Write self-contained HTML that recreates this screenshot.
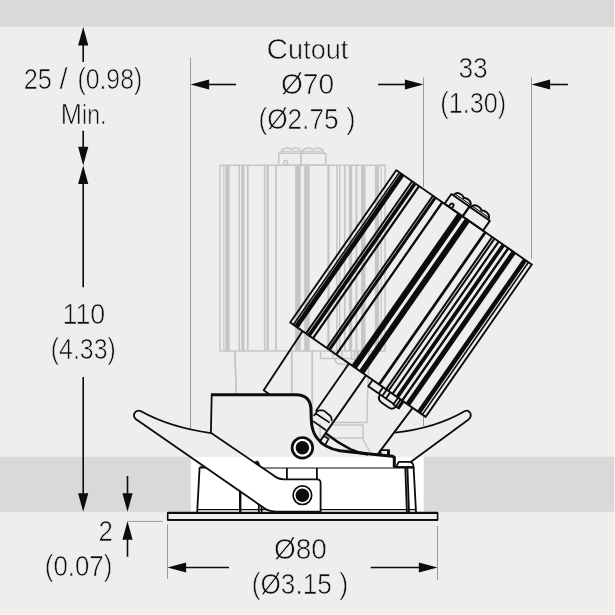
<!DOCTYPE html><html><head><meta charset="utf-8"><style>html,body{margin:0;padding:0;background:#eeeeec}svg{display:block}</style></head><body><svg width="615" height="615" viewBox="0 0 615 615">
<defs><linearGradient id="f" gradientUnits="userSpaceOnUse" x1="0" y1="0" x2="0" y2="615"><stop offset="0.74276" stop-color="#eeeeec"/><stop offset="0.74276" stop-color="#fff"/><stop offset="0.83220" stop-color="#fff"/><stop offset="0.83220" stop-color="#eeeeec"/></linearGradient></defs>
<rect width="615" height="615" fill="#eeeeec"/>
<rect width="615" height="26.8" fill="#d9d9d9"/>
<rect y="456.8" width="615" height="55.0" fill="#d9d9d9"/>
<rect x="190.8" y="456.8" width="232.9" height="55.0" fill="#fff"/>
<line x1="190.5" y1="57.5" x2="190.5" y2="457" stroke="#9a9a9a" stroke-width="1"/>
<line x1="423.5" y1="77.5" x2="423.5" y2="187" stroke="#9a9a9a" stroke-width="1"/><line x1="423.5" y1="416" x2="423.5" y2="426" stroke="#9a9a9a" stroke-width="1"/>
<line x1="531.5" y1="77.5" x2="531.5" y2="259" stroke="#9a9a9a" stroke-width="1"/>
<line x1="167.5" y1="524.5" x2="167.5" y2="579" stroke="#9a9a9a" stroke-width="1"/>
<line x1="437.5" y1="526" x2="437.5" y2="580" stroke="#9a9a9a" stroke-width="1"/>
<line x1="127.5" y1="521.4" x2="162.7" y2="521.4" stroke="#9a9a9a" stroke-width="1"/>
<g stroke="#c6c6c6" stroke-width="1.5" fill="none" stroke-linejoin="round"><path d="M235,350.9 L237,421.6 L243.5,421.6 M369.2,350.9 L367.1,410"/><path d="M291.7,350.9 L291.7,409 M312.3,350.9 L312.3,432"/><path d="M281.2,153.3 q0,-4.6 5,-5.2 q3.6,-0.3 5,1.6 q1.4,-1.9 5,-1.6 q5,0.6 5,5.2"/><path d="M302.4,153.3 q0,-4.6 5.2,-5.2 q3.8,-0.3 5.4,1.6 q1.6,-1.9 5.4,-1.6 q5.2,0.6 5.2,5.2"/><path d="M282,151.2 H300 M303,151.2 H323" stroke-width="1"/><rect x="278.8" y="153.3" width="22" height="11.9"/><rect x="300.8" y="153.3" width="24.9" height="11.9"/><path d="M283.8,165.2 v-2.4 q0,-2.3 1.8,-2.3 q1.8,0 1.8,2.3 v2.4"/><path d="M320.5,350.9 V358.5 H351.5 M333.2,350.9 V358.5 M337.6,350.9 V358.5 M342,350.9 V358.5 M335,358.5 Q335,364.3 341,364.3 H349.5 Q354.4,364.3 354.8,359.2 M351.5,350.9 V359.2 H358.2 V350.9 M354.6,350.9 V359.2"/><path d="M357.5,350.9 V359.6" stroke-width="2.4"/><rect x="220" y="165.2" width="165.1" height="185.7"/></g><rect x="223.30" y="165.2" width="1.10" height="185.7" fill="#c6c6c6"/><rect x="225.30" y="165.2" width="4.30" height="185.7" fill="#c6c6c6"/><rect x="238.50" y="165.2" width="1.50" height="185.7" fill="#c6c6c6"/><rect x="241.20" y="165.2" width="3.30" height="185.7" fill="#c6c6c6"/><rect x="246.80" y="165.2" width="1.80" height="185.7" fill="#c6c6c6"/><rect x="263.90" y="165.2" width="1.50" height="185.7" fill="#c6c6c6"/><rect x="266.40" y="165.2" width="2.50" height="185.7" fill="#c6c6c6"/><rect x="275.20" y="165.2" width="1.80" height="185.7" fill="#c6c6c6"/><rect x="295.10" y="165.2" width="5.60" height="185.7" fill="#c6c6c6"/><rect x="304.20" y="165.2" width="5.50" height="185.7" fill="#c6c6c6"/><rect x="327.30" y="165.2" width="2.30" height="185.7" fill="#c6c6c6"/><rect x="336.10" y="165.2" width="1.50" height="185.7" fill="#c6c6c6"/><rect x="338.90" y="165.2" width="1.50" height="185.7" fill="#c6c6c6"/><rect x="343.90" y="165.2" width="1.70" height="185.7" fill="#c6c6c6"/><rect x="348.90" y="165.2" width="3.30" height="185.7" fill="#c6c6c6"/><rect x="355.50" y="165.2" width="1.90" height="185.7" fill="#c6c6c6"/><rect x="361.00" y="165.2" width="4.50" height="185.7" fill="#c6c6c6"/><rect x="374.90" y="165.2" width="4.10" height="185.7" fill="#c6c6c6"/><rect x="380.50" y="165.2" width="1.10" height="185.7" fill="#c6c6c6"/>
<g stroke="#c6c6c6" stroke-width="1.5" fill="none"><path d="M331,422.4 H367.4 M331,424.9 H363 V439.5 L370.2,452 M328,438 H363 M320,423 V438 M367.3,408 V422.4 M234.6,350.9 L236.4,394 M291.9,350.9 V394 M312.3,350.9 V414"/></g>
<path d="M378,453.8 L394.9,432.6 Q435,428.5 464.5,411.3 Q468.3,409.3 470.3,413.2 Q471.8,416.8 468.6,419.4 L410.7,461.9 L398,461.9 Z" fill="url(#f)" stroke="none"/>
<path d="M394.9,432.6 Q435,428.5 464.5,411.3 Q468.3,409.3 470.3,413.2 Q471.8,416.8 468.6,419.4 L410.7,461.9" fill="none" stroke="#0c0c0c" stroke-width="1.8" stroke-linejoin="round"/>
<g transform="translate(-1.8,0.7) rotate(34.86 302.2 451.0)"><g stroke="#0c0c0c" stroke-width="1.9" fill="none" stroke-linejoin="round"><path d="M235,350.9 L237,421.6 L243.5,421.6 M369.2,350.9 L367.1,410"/><path d="M291.7,350.9 L291.7,409 M312.3,350.9 L312.3,432"/><path d="M281.2,153.3 q0,-4.6 5,-5.2 q3.6,-0.3 5,1.6 q1.4,-1.9 5,-1.6 q5,0.6 5,5.2"/><path d="M302.4,153.3 q0,-4.6 5.2,-5.2 q3.8,-0.3 5.4,1.6 q1.6,-1.9 5.4,-1.6 q5.2,0.6 5.2,5.2"/><path d="M282,151.2 H300 M303,151.2 H323" stroke-width="1"/><rect x="278.8" y="153.3" width="22" height="11.9"/><rect x="300.8" y="153.3" width="24.9" height="11.9"/><path d="M283.8,165.2 v-2.4 q0,-2.3 1.8,-2.3 q1.8,0 1.8,2.3 v2.4"/><path d="M320.5,350.9 V358.5 H351.5 M333.2,350.9 V358.5 M337.6,350.9 V358.5 M342,350.9 V358.5 M335,358.5 Q335,364.3 341,364.3 H349.5 Q354.4,364.3 354.8,359.2 M351.5,350.9 V359.2 H358.2 V350.9 M354.6,350.9 V359.2"/><path d="M357.5,350.9 V359.6" stroke-width="2.8"/><rect x="220" y="165.2" width="165.1" height="185.7"/></g><rect x="223.05" y="165.2" width="1.60" height="185.7" fill="#0c0c0c"/><rect x="225.05" y="165.2" width="4.80" height="185.7" fill="#0c0c0c"/><rect x="238.25" y="165.2" width="2.00" height="185.7" fill="#0c0c0c"/><rect x="240.95" y="165.2" width="3.80" height="185.7" fill="#0c0c0c"/><rect x="246.55" y="165.2" width="2.30" height="185.7" fill="#0c0c0c"/><rect x="263.65" y="165.2" width="2.00" height="185.7" fill="#0c0c0c"/><rect x="266.15" y="165.2" width="3.00" height="185.7" fill="#0c0c0c"/><rect x="274.95" y="165.2" width="2.30" height="185.7" fill="#0c0c0c"/><rect x="294.85" y="165.2" width="6.10" height="185.7" fill="#0c0c0c"/><rect x="303.95" y="165.2" width="6.00" height="185.7" fill="#0c0c0c"/><rect x="327.05" y="165.2" width="2.80" height="185.7" fill="#0c0c0c"/><rect x="335.85" y="165.2" width="2.00" height="185.7" fill="#0c0c0c"/><rect x="338.65" y="165.2" width="2.00" height="185.7" fill="#0c0c0c"/><rect x="343.65" y="165.2" width="2.20" height="185.7" fill="#0c0c0c"/><rect x="348.65" y="165.2" width="3.80" height="185.7" fill="#0c0c0c"/><rect x="355.25" y="165.2" width="2.40" height="185.7" fill="#0c0c0c"/><rect x="360.75" y="165.2" width="5.00" height="185.7" fill="#0c0c0c"/><rect x="374.65" y="165.2" width="4.60" height="185.7" fill="#0c0c0c"/><rect x="380.25" y="165.2" width="1.60" height="185.7" fill="#0c0c0c"/></g>
<g stroke="#0c0c0c" stroke-width="1.7" fill="none" stroke-linejoin="round"><path d="M313.7,416 L317.1,411.6 Q318.2,410.2 320,410.3 L322.6,410.4 Q324,410.5 325.5,411.8 L330.4,416 Q331.4,417 331.5,418.5 L331.7,421.1 M316.1,413.8 L329.6,422.6 M313,421.1 L326.1,430.3 M323.7,435.8 L328.5,438.9 L325.6,444.3"/></g>
<g stroke="#0c0c0c" stroke-width="1.8" fill="url(#f)" stroke-linejoin="round">
<path d="M199.6,467.4 L413,467.4 L416,512 L197.2,512 Z" stroke="none"/><path d="M197.2,512 L199.6,467.4 M413.6,467.4 L416,512" fill="none"/>
<path d="M396,467 L398.8,461.9 L409.5,461.9 Q413.5,462.3 413.6,467.4 Z"/>
<path d="M405.3,467.4 L406.9,512 M407.4,467.4 L409,512 M258.8,467.4 V512 M261.6,467.4 V512 M286.9,467.4 V480 M316.9,467.4 V480" fill="none"/>
<path d="M199.6,467.4 H413.5" stroke-width="2.3" fill="none"/><path d="M197.4,509.7 H416" stroke-width="1.3" fill="none"/><path d="M240.2,467.4 V512" stroke-width="2.4" fill="none"/>
<rect x="167.7" y="512.9" width="269.9" height="7" stroke-width="1.6"/>
<path d="M167.7,512.9 H437.6" stroke-width="2.1" fill="none"/><path d="M167.7,519.9 H437.6" stroke-width="1.9" fill="none"/>
<rect x="380.6" y="450.2" width="8.4" height="6"/><path d="M388.2,450.2 V456" stroke-width="2.4" fill="none"/>
<path d="M211.9,394.6 L296,394.6 Q309.8,395 310.9,408 L311.3,420 Q311.6,431 317,438 Q324,448 340,450.8 Q360,453.2 392.6,456.3 L394.3,457.3 L394.3,467.4 L232,467.4 L210.9,433 Z" stroke="none"/>
<path d="M210.9,433 L211.7,394.6" fill="none"/>
<path d="M211,394.7 L296,394.7 Q309.8,395 310.9,408 L311.3,420 Q311.6,431 317,438 Q324,448 340,450.8 Q360,453.2 392.6,456.3 L394.3,457.3 L394.3,467.4" stroke-width="3" fill="none"/>
<path d="M325.6,433.2 Q338,443 350.7,449.4 Q358,452.8 368,454.6" stroke-width="2.5" fill="none"/>
<path d="M211.2,433.1 Q170,427.5 141,411.3 Q137,409.3 134.6,413 Q132.8,416.5 136,419.3 L264,508 Q269,511.6 276,511.6 L320.6,511.6 L320.6,483 Q320.6,479.3 317,479.3 L284,479.3 Q278,479.3 273,475 Z"/>
<path d="M272,512.3 H285" stroke-width="2.4" fill="none"/>
<path d="M254.6,462.2 L257.6,460.9 L259.9,464.6 Z" fill="#0c0c0c" stroke-width="0.8"/>
</g>
<circle cx="302.4" cy="447.8" r="10.3" fill="#fff" stroke="#0c0c0c" stroke-width="2.7"/><circle cx="302.4" cy="447.8" r="6.8" fill="#0c0c0c"/>
<circle cx="302.4" cy="495.2" r="9.3" fill="#fff" stroke="#0c0c0c" stroke-width="1.7"/><circle cx="302.4" cy="495.2" r="6.8" fill="#0c0c0c"/>
<polygon points="83.2,27.0 78.1,45.6 88.3,45.6" fill="#0c0c0c"/><line x1="83.2" y1="45" x2="83.2" y2="61.9" stroke="#0c0c0c" stroke-width="1.6"/>
<line x1="83.2" y1="130.8" x2="83.2" y2="148" stroke="#0c0c0c" stroke-width="1.6"/><polygon points="83.2,165.4 78.1,146.8 88.3,146.8" fill="#0c0c0c"/>
<polygon points="83.2,165.4 78.1,184.0 88.3,184.0" fill="#0c0c0c"/><line x1="83.2" y1="183" x2="83.2" y2="287.2" stroke="#0c0c0c" stroke-width="1.6"/>
<line x1="83.2" y1="377" x2="83.2" y2="494" stroke="#0c0c0c" stroke-width="1.6"/><polygon points="83.2,511.8 78.1,493.2 88.3,493.2" fill="#0c0c0c"/>
<line x1="127.5" y1="476" x2="127.5" y2="494" stroke="#0c0c0c" stroke-width="1.6"/><polygon points="127.5,511.8 122.4,493.2 132.6,493.2" fill="#0c0c0c"/>
<polygon points="127.5,521.2 122.4,539.8 132.6,539.8" fill="#0c0c0c"/><line x1="127.5" y1="539" x2="127.5" y2="556.8" stroke="#0c0c0c" stroke-width="1.6"/>
<polygon points="190.5,84.5 209.1,79.4 209.1,89.6" fill="#0c0c0c"/><line x1="208" y1="84.5" x2="236.1" y2="84.5" stroke="#0c0c0c" stroke-width="1.6"/>
<line x1="378.1" y1="84.5" x2="406" y2="84.5" stroke="#0c0c0c" stroke-width="1.6"/><polygon points="423.5,84.5 404.9,79.4 404.9,89.6" fill="#0c0c0c"/>
<polygon points="531.5,84.5 550.1,79.4 550.1,89.6" fill="#0c0c0c"/><line x1="549" y1="84.5" x2="567.9" y2="84.5" stroke="#0c0c0c" stroke-width="1.6"/>
<polygon points="167.5,567.5 186.1,562.4 186.1,572.6" fill="#0c0c0c"/><line x1="185" y1="567.5" x2="229" y2="567.5" stroke="#0c0c0c" stroke-width="1.6"/>
<line x1="370.7" y1="567.5" x2="420" y2="567.5" stroke="#0c0c0c" stroke-width="1.6"/><polygon points="437.5,567.5 418.9,562.4 418.9,572.6" fill="#0c0c0c"/>
<g font-family="Liberation Sans, sans-serif" fill="#0c0c0c" stroke="#eeeeec" stroke-width="0.65" opacity="0.99">
<text transform="translate(23.70,88.9) scale(0.8453,1)" font-size="30">25</text><text transform="translate(59.60,88.9) scale(0.9832,1)" font-size="30">/</text><text transform="translate(77.40,88.9) scale(0.8270,1)" font-size="30">(0.98)</text>
<text transform="translate(60.80,123.8) scale(0.8491,1)" font-size="30">M<tspan font-size="27.3">in.</tspan></text>
<text transform="translate(62.50,323.7) scale(0.8950,1)" font-size="30">110</text>
<text transform="translate(50.80,358.8) scale(0.8308,1)" font-size="30">(4.33)</text>
<text transform="translate(98.50,541.0) scale(0.8633,1)" font-size="30">2</text>
<text transform="translate(44.80,576.1) scale(0.8627,1)" font-size="30">(0.07)</text>
<text transform="translate(266.60,59.3) scale(0.9930,1)" font-size="30">C<tspan font-size="27.3">utout</tspan></text>
<text transform="translate(280.90,94.1) scale(0.9383,1)" font-size="30">Ø70</text>
<text transform="translate(258.40,129.0) scale(0.8745,1)" font-size="30">(Ø2.75</text><text transform="translate(346.20,129.0) scale(0.9409,1)" font-size="30">)</text>
<text transform="translate(458.40,77.6) scale(0.8783,1)" font-size="30">33</text>
<text transform="translate(440.30,112.8) scale(0.8397,1)" font-size="30">(1.30)</text>
<text transform="translate(273.90,558.6) scale(0.9330,1)" font-size="30">Ø80</text>
<text transform="translate(251.80,593.7) scale(0.8723,1)" font-size="30">(Ø3.15</text><text transform="translate(339.30,593.7) scale(0.9109,1)" font-size="30">)</text>
</g>
<rect x="614" y="0" width="1" height="615" fill="#fff" opacity="0.6"/><rect x="0" y="614" width="615" height="1" fill="#fff" opacity="0.6"/>
</svg></body></html>
